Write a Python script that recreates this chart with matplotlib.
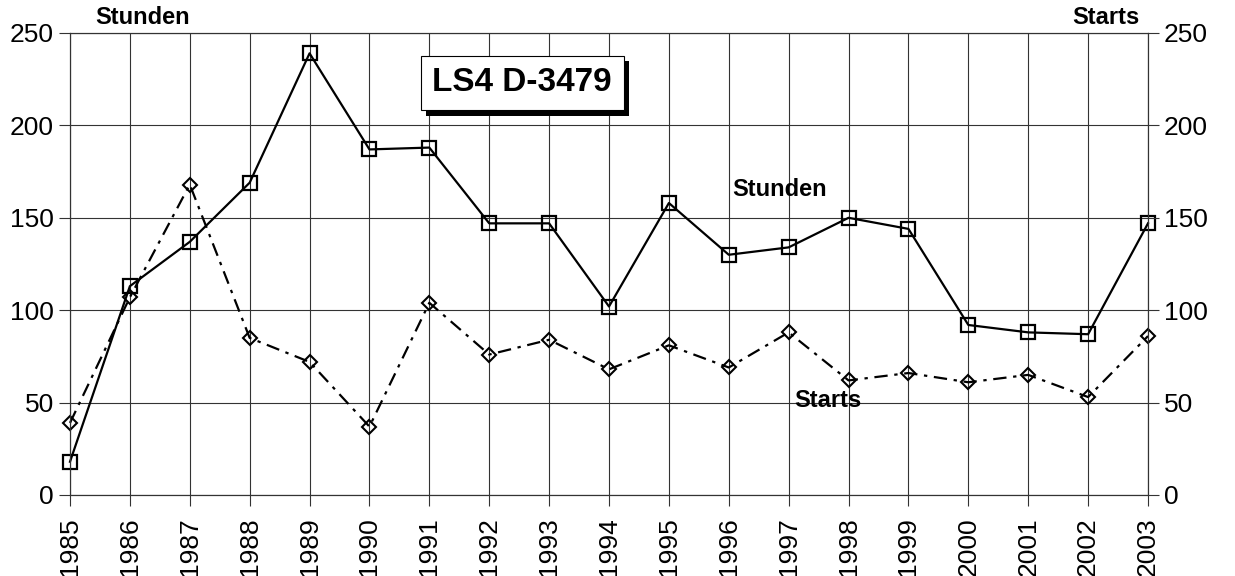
import matplotlib
matplotlib.use("Agg")
import matplotlib.pyplot as plt
import matplotlib.patheffects as pe

years = list(range(1985, 2004))
stunden = [18, 113, 137, 169, 239, 187, 188, 147, 147, 102, 158, 130, 134, 150, 144, 92, 88, 87, 147]
starts = [39, 107, 168, 85, 72, 37, 104, 76, 84, 68, 81, 69, 88, 62, 66, 61, 65, 53, 86]
yticks = [0, 50, 100, 150, 200, 250]
title = "LS4 D-3479"

plt.rcParams['font.family'] = ['Liberation Sans', 'DejaVu Sans']

fig = plt.figure(figsize=(12.35, 5.76), dpi=100)
ax = fig.add_axes([70/1235, 1-495/576, (1148-70)/1235, (495-33)/576])

ax.plot(years, stunden, color='black', lw=1.6, marker='s', ms=10,
        mfc='none', mec='black', mew=1.6, zorder=3, clip_on=False)
ax.plot(years, starts, color='black', lw=1.6, linestyle=(0, (6, 3, 1.5, 3)),
        marker='D', ms=7, mfc='none', mec='black', mew=1.5, zorder=3, clip_on=False)

ax.set_xlim(1985, 2003)
ax.set_ylim(0, 250)
ax.set_xticks(years)
ax.set_xticklabels([str(y) for y in years], rotation=90, fontsize=19)
ax.set_yticks(yticks)
ax.tick_params(axis='both', direction='out', length=8, width=0.8, colors='#333333',
               labelcolor='black', labelsize=19)
ax.tick_params(axis='x', pad=8)
ax.grid(True, color='#333333', lw=0.8)
for s in ax.spines.values():
    s.set_color('#333333')
    s.set_linewidth(0.8)

ax2 = ax.twinx()
ax2.set_ylim(0, 250)
ax2.set_yticks(yticks)
ax2.tick_params(axis='y', direction='out', length=8, width=0.8, colors='#333333',
                labelcolor='black', labelsize=19)
for s in ax2.spines.values():
    s.set_color('#333333')
    s.set_linewidth(0.8)

fig.text(95/1235, 1-18/576, "Stunden", fontsize=17, fontweight='bold', va='center', ha='left')
fig.text(1140/1235, 1-18/576, "Starts", fontsize=17, fontweight='bold', va='center', ha='right')

ax.text(1996.05, 165.5, "Stunden", fontsize=17, fontweight='bold', va='center', ha='left', zorder=4)
ax.text(1997.1, 51, "Starts", fontsize=17, fontweight='bold', va='center', ha='left', zorder=4)

t = ax.text(1992.55, 223, title, fontsize=24, fontweight='bold', ha='center', va='center',
            family=['Liberation Sans Narrow', 'Liberation Sans', 'DejaVu Sans'],
            bbox=dict(boxstyle='square,pad=0.35', fc='white', ec='black', lw=0.8), zorder=5)
t.get_bbox_patch().set_path_effects([
    pe.SimplePatchShadow(offset=(4, -4), shadow_rgbFace='black', alpha=1.0),
    pe.Normal()])

fig.savefig("out.png", dpi=100)
